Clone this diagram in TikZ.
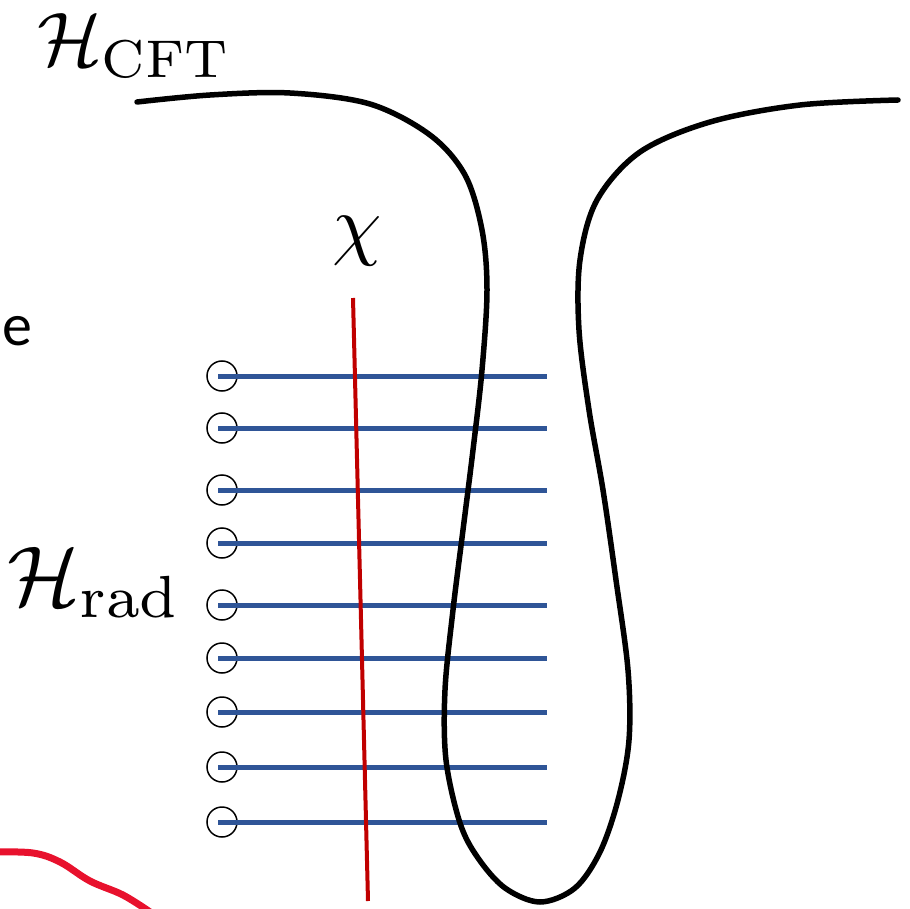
\documentclass[tikz,border=0pt]{standalone}
\usepackage{fontspec}
\newfontfamily\calibrifont{Carlito}
\definecolor{modeblue}{HTML}{2F5597}
\definecolor{chired}{HTML}{C00000}
\definecolor{brightred}{HTML}{E8112D}
\begin{document}
\begin{tikzpicture}[x=1pt,y=-1pt,
  lbl/.style={inner sep=0pt, anchor=base west},
  qubit/.style={circle, draw=black, line width=1.5pt, minimum size=30pt, inner sep=0pt},
  mode/.style={draw=modeblue, line width=5pt},
  horizon/.style={draw=black, line width=5.5pt, line cap=round, line join=round},
  chiline/.style={draw=chired, line width=4pt},
  scribble/.style={draw=brightred, line width=7pt}]
\useasboundingbox (0,0) rectangle (910,909);
% labels
\node[lbl, scale=7.6] (hcft) at (36,66) {$\mathcal{H}_{\mathrm{CFT}}$};
\node[lbl, scale=8.5] (hrad) at (6,605) {$\mathcal{H}_{\mathrm{rad}}$};
\node[lbl, scale=7.9] (chi) at (331,251) {$\chi$};
\node[lbl, scale=6] (etext) at (1,345) {\calibrifont e};
% qubits and modes
\foreach \i/\y in {1/376,2/428,3/490,4/543,5/605,6/658,7/712,8/767,9/822}{
  \node[qubit] (c\i) at (222,\y) {};
  \coordinate (s\i) at (218,\y);
  \coordinate (e\i) at (547,\y);
  \draw[mode] (s\i) -- (e\i);
}
% horizon curve
\draw[horizon] plot[smooth, tension=0.55] coordinates {
 (137,102) (210,95) (290,93) (370,104) (430,135) (465,175) (482,230)
 (487,290) (482,370) (473,450) (463,530) (453,610) (445,690) (446,760)
 (460,823) (478,858) (505,888) (540,902) (575,888) (600,852) (618,800)
 (629,740) (628,670) (616,580) (603,490) (589,410) (579,330) (580,260)
 (597,200) (640,152) (710,122) (800,105) (898,100)};
% chi line
\coordinate (chitop) at (353,298);
\coordinate (chibot) at (368,901);
\draw[chiline] (chitop) -- (chibot);
% red scribble
\draw[scribble] plot[smooth, tension=0.6] coordinates {
 (-5,852) (33,853) (60,862) (90,881) (123,895) (150,912)};
\end{tikzpicture}
\end{document}
